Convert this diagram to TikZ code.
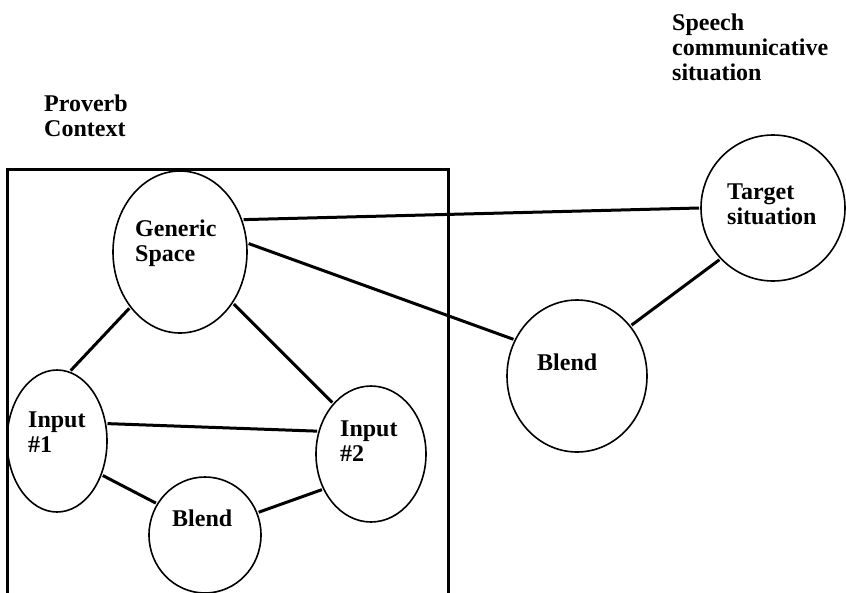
\documentclass[tikz,border=0pt]{standalone}
\usepackage{fontspec}
\setmainfont{Liberation Serif}
\usetikzlibrary{shapes.geometric}
\tikzset {
  % oval mental spaces
  space/.style = {draw, ellipse, line width=1.6pt, inner sep=0pt, outer sep=2pt},
  % bold captions, left aligned
  word/.style = {anchor=west, align=left, inner sep=0pt,
    font=\bfseries\fontsize{24}{25}\selectfont},
  % connecting lines and the frame
  link/.style = {line width=3pt},
}
\begin{document}
\begin{tikzpicture}[x=1pt, y=-1pt]
      \useasboundingbox (0,0) rectangle (846,592);
      \clip (0,0) rectangle (846,592);

      \draw[link] (7,169) rectangle (448,615);

      \node[space, minimum width=134pt, minimum height=162pt] (gen) at (180,252) {};
      \node[space, minimum width=100pt, minimum height=142pt] (in1) at (57,441) {};
      \node[space, minimum width=110pt, minimum height=136pt] (in2) at (371,454) {};
      \node[space, minimum width=112pt, minimum height=116pt] (blend1) at (205,535) {};
      \node[space, minimum width=144pt, minimum height=146pt] (target) at (773,208) {};
      \node[space, minimum width=140pt, minimum height=152pt] (blend2) at (577,376) {};

      \node[word] (proverb) at (44,116) {Proverb\\Context};
      \node[word] (speech) at (672,47) {Speech\\communicative\\situation};
      \node[word] (gent) at (135,243) {Generic\\Space};
      \node[word] (in1t) at (28,432) {Input\\\#1};
      \node[word] (in2t) at (340,441) {Input\\\#2};
      \node[word] (blend1t) at (172,518) {Blend};
      \node[word] (targett) at (727,204) {Target\\situation};
      \node[word] (blend2t) at (537,362) {Blend};

      \draw[link] (gen.228) -- (in1.79);
      \draw[link] (gen.316) -- (in2.127);
      \draw[link] (in1.19) -- (in2.157);
      \draw[link] (in1.-37) -- (blend1.147);
      \draw[link] (in2.216) -- (blend1.23);

      \draw[link] (gen.27) -- (target.180);
      \draw[link] (gen.7) -- (blend2.150);
      \draw[link] (target.224) -- (blend2.43);
    \end{tikzpicture}
\end{document}
